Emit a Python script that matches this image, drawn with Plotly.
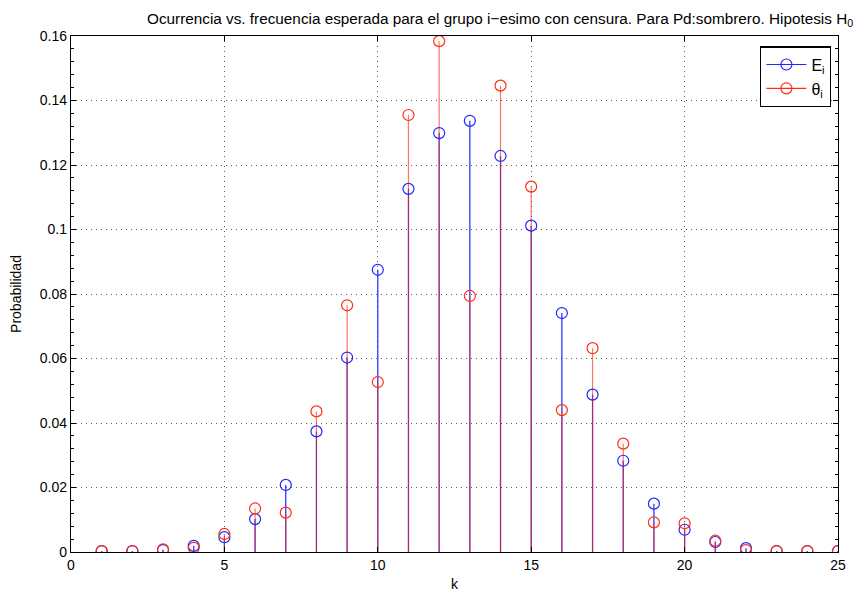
import plotly.graph_objects as go

k = list(range(1, 26))
E_i = [0.0003, 0.0003, 0.0006, 0.0019, 0.0046, 0.0102, 0.0208, 0.0374, 0.0603, 0.0875,
       0.1126, 0.1299, 0.1337, 0.1228, 0.1012, 0.0741, 0.0488, 0.0283, 0.0150, 0.0069,
       0.0031, 0.0012, 0.0003, 0.0003, 0.0003]
theta_i = [0.0003, 0.0003, 0.0008, 0.0013, 0.0056, 0.0135, 0.0122, 0.0436, 0.0765, 0.0527,
           0.1355, 0.1584, 0.0794, 0.1446, 0.1133, 0.0440, 0.0632, 0.0336, 0.0092, 0.0089,
           0.0035, 0.0006, 0.0003, 0.0003, 0.0003]
y_ticks = [0, 0.02, 0.04, 0.06, 0.08, 0.1, 0.12, 0.14, 0.16]
y_ticklabels = ["0", "0.02", "0.04", "0.06", "0.08", "0.1", "0.12", "0.14", "0.16"]
x_ticks = [0, 5, 10, 15, 20, 25]

BLUE = "rgb(30,40,255)"
RED = "rgb(255,45,20)"


def stems(xs, ys):
    sx, sy = [], []
    for x, y in zip(xs, ys):
        sx += [x, x, None]
        sy += [0, y, None]
    return sx, sy


fig = go.Figure()
bx, by = stems(k, E_i)
rx, ry = stems(k, theta_i)
fig.add_trace(go.Scatter(x=bx, y=by, mode="lines", line=dict(color=BLUE, width=1.2),
                         showlegend=False, hoverinfo="skip"))
fig.add_trace(go.Scatter(x=rx, y=ry, mode="lines", line=dict(color=RED, width=1.2),
                         opacity=0.65, showlegend=False, hoverinfo="skip"))
fig.add_trace(go.Scatter(x=k, y=E_i, mode="markers", name="E<sub>i</sub>", showlegend=False,
                         marker=dict(symbol="circle-open", size=11, color=BLUE, line=dict(width=1.2))))
fig.add_trace(go.Scatter(x=k, y=theta_i, mode="markers", name="θ<sub>i</sub>", showlegend=False,
                         marker=dict(symbol="circle-open", size=11, color=RED, line=dict(width=1.2))))
# legend entries showing line + marker
fig.add_trace(go.Scatter(x=[None], y=[None], mode="lines+markers", name="E<sub>i</sub>",
                         line=dict(width=1.2, color=BLUE),
                         marker=dict(symbol="circle-open", size=11, color=BLUE, line=dict(width=1.2))))
fig.add_trace(go.Scatter(x=[None], y=[None], mode="lines+markers", name="θ<sub>i</sub>",
                         line=dict(width=1.2, color=RED),
                         marker=dict(symbol="circle-open", size=11, color=RED, line=dict(width=1.2))))

axis_common = dict(
    showline=True, linecolor="black", linewidth=1.3, mirror="ticks",
    ticks="inside", ticklen=5, tickcolor="black",
    showgrid=True, gridcolor="rgb(90,90,90)", griddash="1px,4px", gridwidth=1,
    zeroline=False, automargin=False,
    tickfont=dict(family="Liberation Sans, Arial", size=14, color="black"),
)

fig.update_layout(
    width=865, height=597,
    margin=dict(l=71, r=27, t=36, b=45),
    paper_bgcolor="white", plot_bgcolor="white",
    font=dict(family="Liberation Sans, Arial", color="black"),
    xaxis=dict(range=[0, 25], tickvals=x_ticks, title=dict(text="k", font=dict(size=14), standoff=7),
               **axis_common),
    yaxis=dict(range=[0, 0.16], tickvals=y_ticks, ticktext=y_ticklabels,
               title=dict(text="Probabilidad", font=dict(size=14), standoff=14),
               minor=dict(ticks="inside", ticklen=3, dtick=0.004, tickcolor="black", showgrid=False),
               **axis_common),
    legend=dict(x=0.991, y=0.98, xanchor="right", yanchor="top",
                bordercolor="black", borderwidth=1.3, bgcolor="white",
                font=dict(size=16, family="Liberation Sans, Arial"), itemwidth=40),
    showlegend=True,
    annotations=[dict(
        text="Ocurrencia vs. frecuencia esperada para el grupo i−esimo con censura. Para Pd:sombrero. Hipotesis H<sub>0</sub>",
        xref="paper", yref="paper", x=(145 - 71) / 767, y=1.0, xanchor="left", yanchor="bottom",
        yshift=5, showarrow=False, font=dict(size=15.3, family="Liberation Sans, Arial", color="black"))],
)

fig.write_html("out.html")
